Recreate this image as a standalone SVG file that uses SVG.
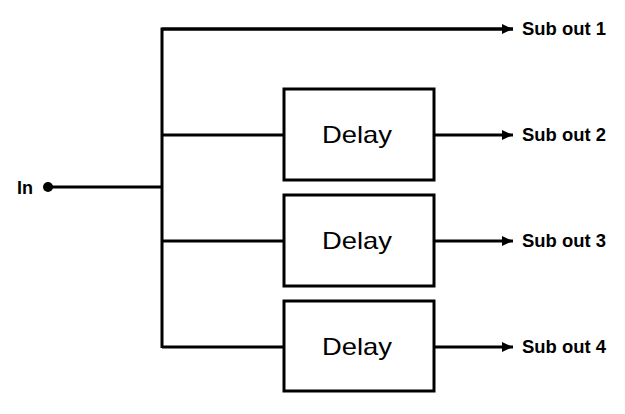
<svg xmlns="http://www.w3.org/2000/svg" width="625" height="414" viewBox="0 0 625 414">
<style>
.ln{stroke:#000;stroke-width:3;fill:none}
.box{fill:#fff;stroke:#000;stroke-width:3}
.lbl{font-family:"Liberation Sans",Arial,sans-serif;font-size:17.5px;font-weight:bold;fill:#000}
.dl{font-family:"Liberation Sans",Arial,sans-serif;font-size:24px;fill:#000}
</style>
<defs>
<marker id="ah" markerWidth="12" markerHeight="10" refX="11" refY="5" orient="auto" markerUnits="userSpaceOnUse">
<path d="M0,0 L11,5 L0,10 Z" fill="#000"/>
</marker>
</defs>
<g id="connectors">
<line class="ln" x1="48" y1="187" x2="162" y2="187"/>
<polyline class="ln" points="513,29 162,29 162,348"/>
<line class="ln" x1="162" y1="135" x2="284" y2="135"/>
<line class="ln" x1="162" y1="241" x2="284" y2="241"/>
<line class="ln" x1="162" y1="347" x2="284" y2="347"/>
<line class="ln" x1="162" y1="29" x2="513" y2="29" marker-end="url(#ah)"/>
<line class="ln" x1="434" y1="135" x2="513" y2="135" marker-end="url(#ah)"/>
<line class="ln" x1="434" y1="241" x2="513" y2="241" marker-end="url(#ah)"/>
<line class="ln" x1="434" y1="347" x2="513" y2="347" marker-end="url(#ah)"/>
</g>
<g id="in">
<circle cx="48" cy="187" r="5" fill="#000"/>
<text class="lbl" x="17" y="194" textLength="16" lengthAdjust="spacingAndGlyphs">In</text>
</g>
<g id="delay1">
<rect class="box" x="284" y="89" width="150" height="91"/>
<text class="dl" x="322" y="142.5" textLength="70" lengthAdjust="spacingAndGlyphs">Delay</text>
</g>
<g id="delay2">
<rect class="box" x="284" y="195" width="150" height="91"/>
<text class="dl" x="322" y="248.5" textLength="70" lengthAdjust="spacingAndGlyphs">Delay</text>
</g>
<g id="delay3">
<rect class="box" x="284" y="301" width="150" height="90"/>
<text class="dl" x="322" y="354.5" textLength="70" lengthAdjust="spacingAndGlyphs">Delay</text>
</g>
<g id="out1"><text class="lbl" x="522" y="34.5" textLength="84" lengthAdjust="spacingAndGlyphs">Sub out 1</text></g>
<g id="out2"><text class="lbl" x="522" y="140.5" textLength="84" lengthAdjust="spacingAndGlyphs">Sub out 2</text></g>
<g id="out3"><text class="lbl" x="522" y="246.5" textLength="84" lengthAdjust="spacingAndGlyphs">Sub out 3</text></g>
<g id="out4"><text class="lbl" x="522" y="352.5" textLength="84" lengthAdjust="spacingAndGlyphs">Sub out 4</text></g>
</svg>
